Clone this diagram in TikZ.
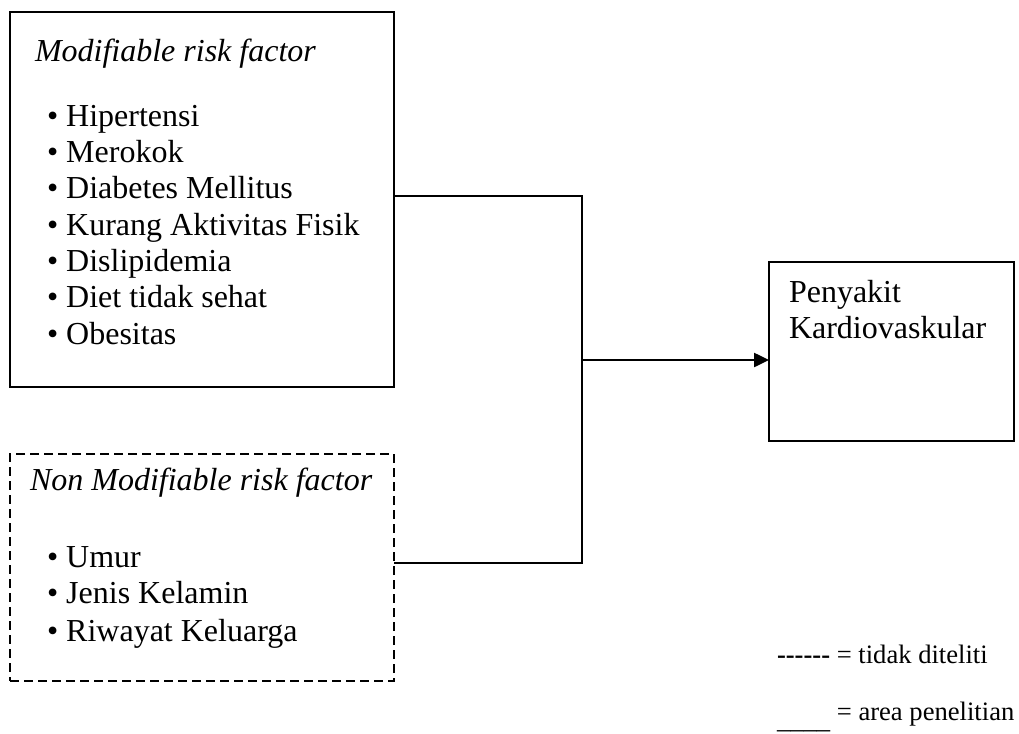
\documentclass[tikz,border=0pt]{standalone}
\usepackage{fontspec}
\setmainfont{Liberation Serif}
\usetikzlibrary{arrows.meta}
\tikzset{
  box/.style={draw, line width=1.6pt, anchor=north west, inner sep=0pt, outer sep=0pt},
  dbox/.style={box, dash pattern=on 9pt off 5pt},
  txt/.style={anchor=base west, inner sep=0pt, outer sep=0pt, font=\fontsize{32}{36.5}\selectfont},
  legend/.style={anchor=base west, inner sep=0pt, outer sep=0pt, font=\fontsize{26.6}{30}\selectfont},
  conn/.style={line width=2.5pt},
  arr/.style={conn, -{Triangle[length=15pt,width=14pt]}}
}
\begin{document}
\begin{tikzpicture}[x=1pt,y=-1pt]
\useasboundingbox (0,0) rectangle (1019,733);
% boxes
\node[box, minimum width=384pt, minimum height=375pt] (mod) at (10,12) {};
\node[dbox, minimum width=384pt, minimum height=227pt] (nonmod) at (10,454) {};
\node[box, minimum width=245pt, minimum height=179pt] (pk) at (769,262) {};
% modifiable text
\node[txt, font=\fontsize{32}{36.5}\selectfont\itshape] (modt) at (35,62) {Modifiable risk factor};
\node[txt] (m1) at (47,126) {• Hipertensi};
\node[txt] (m2) at (47,162.3) {• Merokok};
\node[txt] (m3) at (47,198.6) {• Diabetes Mellitus};
\node[txt] (m4) at (47,235) {• Kurang Aktivitas Fisik};
\node[txt] (m5) at (47,271.2) {• Dislipidemia};
\node[txt] (m6) at (47,307.6) {• Diet tidak sehat};
\node[txt] (m7) at (47,344) {• Obesitas};
% non modifiable text
\node[txt, font=\fontsize{32}{36.5}\selectfont\itshape] (nmt) at (30,490) {Non Modifiable risk factor};
\node[txt] (n1) at (47,567) {• Umur};
\node[txt] (n2) at (47,603.3) {• Jenis Kelamin};
\node[txt] (n3) at (47,641) {• Riwayat Keluarga};
% outcome text
\node[txt] (pk1) at (789,302) {Penyakit};
\node[txt] (pk2) at (789,338) {Kardiovaskular};
% connectors
\coordinate (j1) at (582,196);
\coordinate (j2) at (582,563);
\coordinate (j3) at (582,360);
\draw[conn] (mod.east |- j1) -- (j1) -- (j2) -- (nonmod.east |- j2);
\draw[arr] (j3) -- (pk.west |- j3);
% legend
\node[legend] (lg1) at (777,663) {{\bfseries -{}-{}-{}-{}-{}-} = tidak diteliti};
\node[legend] (lg2) at (777,720) {\raisebox{-8pt}{\_\_\_\_} = area penelitian};
\end{tikzpicture}
\end{document}
